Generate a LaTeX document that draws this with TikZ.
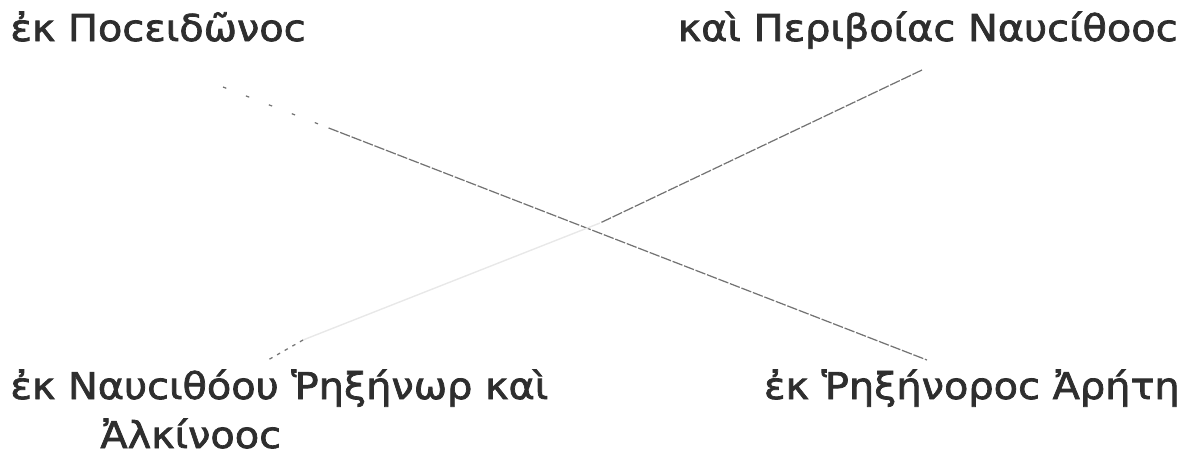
\documentclass[tikz,border=0pt]{standalone}
\usepackage{fontspec}
\setmainfont[FakeBold=2,FakeStretch=1.08]{DejaVu Sans}
\usetikzlibrary{positioning,calc}

\tikzset{
  gen/.style={font=\fontsize{21}{25}\selectfont, text=black!82, inner sep=0pt, anchor=base west},
  link/.style={draw=black!55, line width=0.7pt, dash pattern=on 6pt off 1pt},
  faint/.style={draw=black!9, line width=0.8pt}
}

\begin{document}
\begin{tikzpicture}[x=0.02cm, y=-0.02cm]
\useasboundingbox (0,0) rectangle (1189,461);

\node[gen] (pos) at (10,41) {ἐκ Ποϲειδῶνοϲ};
\node[gen, anchor=base east] (nau) at (1178,41) {καὶ Περιβοίαϲ Ναυϲίθοοϲ};
\node[gen] (rhex) at (10,399) {ἐκ Ναυϲιθόου Ῥηξήνωρ καὶ};
\node[gen] (alk) at (100,448) {Ἀλκίνοοϲ};
\node[gen, anchor=base east] (arete) at (1180,399) {ἐκ Ῥηξήνοροϲ Ἀρήτη};

\coordinate (pos end) at (223,87);
\coordinate (nau end) at (922,70);
\coordinate (arete end) at (927,360);
\coordinate (meet) at (600,223);
\coordinate (stub) at (303,340);
\coordinate (rhex end) at (268,360);

\draw[link, dash pattern=on 2pt off 12pt] (pos end) -- ($(pos end)!0.15!(arete end)$);
\draw[link] ($(pos end)!0.15!(arete end)$) -- (arete end);
\draw[link] (nau end) -- (meet);
\draw[faint] (meet) -- (stub);
\draw[link, dash pattern=on 2pt off 3pt] (stub) -- (rhex end);
\end{tikzpicture}
\end{document}
